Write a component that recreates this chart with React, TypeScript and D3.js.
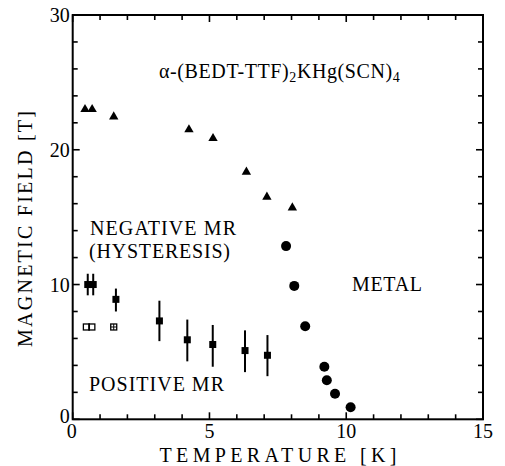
import React from "react";
import * as d3 from "d3";

const triT = [0.45, 0.71, 1.5, 4.25, 5.13, 6.35, 7.1, 8.03];
const triB = [23.0, 23.0, 22.45, 21.5, 20.85, 18.35, 16.5, 15.7];
const circT = [7.8, 8.1, 8.5, 9.2, 9.29, 9.59, 10.16];
const circB = [12.85, 9.9, 6.9, 3.9, 2.9, 1.9, 0.9];
const sqT = [0.55, 0.75, 1.58, 3.17, 4.19, 5.12, 6.3, 7.12];
const sqB = [10.0, 10.0, 8.9, 7.3, 5.9, 5.55, 5.1, 4.75];
const sqLo = [9.2, 9.2, 8.0, 5.8, 4.3, 3.9, 3.5, 3.2];
const sqHi = [10.8, 10.8, 9.7, 8.8, 7.4, 7.0, 6.6, 6.25];
const openT = [0.5, 0.7, 1.5];
const openB = [6.85, 6.85, 6.85];
const xTickLabels = [0, 5, 10, 15];
const yTickLabels = [0, 10, 20, 30];

const FONT = "'Liberation Serif', 'DejaVu Serif', serif";

export default function App() {
  const x = d3.scaleLinear().domain([0, 15]).range([72.7, 483]);
  const y = d3.scaleLinear().domain([0, 30]).range([419.3, 15]);
  const xt = d3.range(0, 16, 1);
  const yt = d3.range(0, 31, 2);
  const tri = d3.symbol().type(d3.symbolTriangle).size(38)();
  return (
    <svg width={505} height={466} style={{ position: "absolute", left: 0, top: 0, background: "#fff" }}>
      <rect x={0} y={0} width={505} height={466} fill="#fff" />
      <g stroke="#000" strokeWidth={1.6}>
        {xt.map((t) => {
          const L = t % 5 === 0 ? 7 : 5;
          return (
            <g key={"xt" + t}>
              <line x1={x(t)} x2={x(t)} y1={y(0)} y2={y(0) - L} />
              <line x1={x(t)} x2={x(t)} y1={y(30)} y2={y(30) + L} />
            </g>
          );
        })}
        {yt.map((t) => {
          const L = t % 10 === 0 ? 7 : 5;
          return (
            <g key={"yt" + t}>
              <line x1={x(0)} x2={x(0) + L} y1={y(t)} y2={y(t)} />
              <line x1={x(15)} x2={x(15) - L} y1={y(t)} y2={y(t)} />
            </g>
          );
        })}
      </g>
      <rect x={x(0)} y={y(30)} width={x(15) - x(0)} height={y(0) - y(30)} fill="none" stroke="#000" strokeWidth={2} />
      <g fontFamily={FONT} fontSize={20} fill="#000">
        {yTickLabels.map((t) => (
          <text key={"yl" + t} x={x(0) - 3} y={y(t) + (t === 0 ? 4 : 7)} textAnchor="end">
            {t}
          </text>
        ))}
        {xTickLabels.map((t) => (
          <text key={"xl" + t} x={x(t) - (t === 0 ? 1 : 0)} y={y(0) + 19} textAnchor="middle">
            {t}
          </text>
        ))}
        <text x={278} y={462} textAnchor="middle" textLength={237} lengthAdjust="spacing">
          TEMPERATURE [K]
        </text>
        <text
          transform={`translate(32,${229}) rotate(-90)`}
          textAnchor="middle"
          textLength={236}
          lengthAdjust="spacing"
        >
          MAGNETIC FIELD [T]
        </text>
        <text x={159} y={78} letterSpacing={0.6}>
          α-(BEDT-TTF)<tspan fontSize={14} dy={4}>2</tspan>
          <tspan dy={-4}>KHg(SCN)</tspan>
          <tspan fontSize={14} dy={4}>4</tspan>
        </text>
        <text x={90} y={235} textLength={146} lengthAdjust="spacing">NEGATIVE MR</text>
        <text x={89} y={258} textLength={141} lengthAdjust="spacing">(HYSTERESIS)</text>
        <text x={352} y={291} textLength={70} lengthAdjust="spacing">METAL</text>
        <text x={89} y={391} textLength={135} lengthAdjust="spacing">POSITIVE MR</text>
      </g>
      <g fill="#000">
        {triT.map((t, i) => (
          <path key={"tr" + i} d={tri as string} transform={`translate(${x(t)},${y(triB[i])})`} />
        ))}
        {circT.map((t, i) => (
          <circle key={"c" + i} cx={x(t)} cy={y(circB[i])} r={5} />
        ))}
        {sqT.map((t, i) => (
          <g key={"s" + i}>
            <line x1={x(t)} x2={x(t)} y1={y(sqLo[i])} y2={y(sqHi[i])} stroke="#000" strokeWidth={2} />
            <rect x={x(t) - 3.5} y={y(sqB[i]) - 3.5} width={7} height={7} />
          </g>
        ))}
        {openT.map((t, i) => (
          <g key={"o" + i}>
            <rect x={x(t) - 3} y={y(openB[i]) - 3} width={6} height={6} fill="none" stroke="#000" strokeWidth={1.3} />
            {i === 2 ? (
              <g stroke="#000" strokeWidth={1}>
                <line x1={x(t)} x2={x(t)} y1={y(openB[i]) - 3} y2={y(openB[i]) + 3} />
                <line x1={x(t) - 3} x2={x(t) + 3} y1={y(openB[i])} y2={y(openB[i])} />
              </g>
            ) : null}
          </g>
        ))}
      </g>
    </svg>
  );
}
